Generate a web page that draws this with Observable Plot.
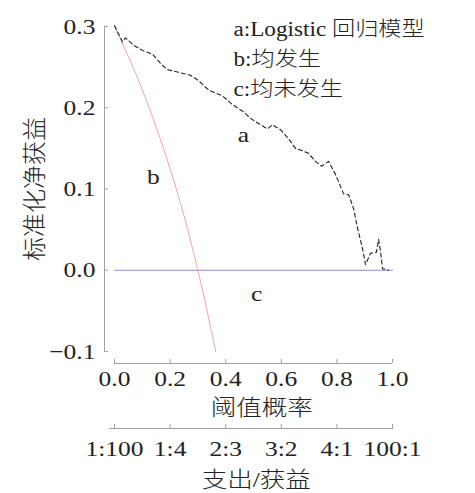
<!DOCTYPE html>
<html>
<head>
<meta charset="utf-8">
<script src="https://cdn.jsdelivr.net/npm/d3@7"></script>
<script src="https://cdn.jsdelivr.net/npm/@observablehq/plot@0.6"></script>
<style>
  html, body { margin: 0; padding: 0; background: #fff; }
  #chart svg { display: block; }
  #chart svg text { font-family: "Liberation Serif", "Times New Roman", "Noto Sans CJK SC", serif; }
</style>
</head>
<body>
<div id="chart"></div>
<script>
// a: Logistic regression model
const modelThreshold = [0, 0.029, 0.04, 0.068, 0.104, 0.137, 0.17, 0.19, 0.226, 0.273, 0.30, 0.338, 0.363, 0.387, 0.424, 0.464, 0.489, 0.507, 0.55, 0.568, 0.597, 0.626, 0.651, 0.669, 0.698, 0.723, 0.745, 0.77, 0.795, 0.824, 0.842, 0.86, 0.874, 0.892, 0.903, 0.921, 0.942, 0.95, 0.957, 0.964, 0.986];
const modelNB = [0.301, 0.281, 0.286, 0.277, 0.270, 0.266, 0.253, 0.247, 0.244, 0.240, 0.234, 0.222, 0.218, 0.215, 0.204, 0.195, 0.187, 0.183, 0.174, 0.179, 0.173, 0.162, 0.150, 0.148, 0.144, 0.134, 0.128, 0.134, 0.118, 0.094, 0.093, 0.076, 0.052, 0.027, 0.007, 0.021, 0.022, 0.038, 0.023, 0.002, 0.0];
// b: treat all
const allThreshold = [0, 0.05, 0.1, 0.15, 0.2, 0.25, 0.3, 0.35, 0.364];
const allNB = [0.300, 0.263, 0.222, 0.176, 0.125, 0.067, 0.0, -0.077, -0.1];
// c: treat none
const noneThreshold = [0, 1];
const noneNB = [0, 0];

const xTicks = [0, 0.2, 0.4, 0.6, 0.8, 1.0];
const yTicks = [-0.1, 0, 0.1, 0.2, 0.3];
const costBenefitLabels = ["1:100", "1:4", "2:3", "3:2", "4:1", "100:1"];
const legendLines = ["a:Logistic 回归模型", "b:均发生", "c:均未发生"];
const legendY = [0.296, 0.259, 0.222];
const curveLabels = ["a", "b", "c"];
const curveLabelX = [0.464, 0.14, 0.511];
const curveLabelY = [0.167, 0.115, -0.029];

const modelData = modelThreshold.map((t, i) => ({t, nb: modelNB[i]}));
const allData = allThreshold.map((t, i) => ({t, nb: allNB[i]}));
const noneData = noneThreshold.map((t, i) => ({t, nb: noneNB[i]}));
const costData = xTicks.map((t, i) => ({t, label: costBenefitLabels[i]}));
const legendData = legendLines.map((s, i) => ({s, y: legendY[i]}));
const curveLabelData = curveLabels.map((s, i) => ({s, x: curveLabelX[i], y: curveLabelY[i]}));

const axisColor = "#a0a0a0";
const ink = "#222";
const fmt = d3.format(".1f");

const chart = Plot.plot({
  width: 475,
  height: 493,
  marginLeft: 114,
  marginRight: 83,
  marginTop: 26,
  marginBottom: 142,
  x: {domain: [0, 1], axis: null},
  y: {domain: [-0.1, 0.3], axis: null},
  style: {fontSize: "21px", background: "#fff", color: ink},
  marks: [
    // y axis spine & inward ticks (offset left)
    Plot.ruleX([0], {y1: -0.1, y2: 0.3, dx: -10, stroke: axisColor}),
    Plot.ruleY(yTicks, {y: d => d, x1: 0, x2: 0, dx: -10, insetRight: -4, stroke: axisColor}),
    Plot.text(yTicks, {y: d => d, x: 0, text: d => fmt(d), textAnchor: "end", dx: -19, fontSize: 22, fill: ink}),
    // x axis spine & inward ticks (offset below)
    Plot.ruleY([-0.1], {x1: 0, x2: 1, dy: 12, stroke: axisColor}),
    Plot.ruleX(xTicks, {x: d => d, y1: -0.1, y2: -0.1, dy: 12, insetTop: -4, stroke: axisColor}),
    Plot.text(xTicks, {x: d => d, y: -0.1, text: d => fmt(d), dy: 27, fontSize: 22, fill: ink}),
    Plot.text(["阈值概率"], {x: 0.53, y: -0.1, text: d => d, dy: 56, fontSize: 22, fontWeight: 300, fill: ink}),
    // cost:benefit secondary axis
    Plot.ruleY([-0.1], {x1: -0.018, x2: 1.004, dy: 77, stroke: axisColor}),
    Plot.ruleX(costData, {x: "t", y1: -0.1, y2: -0.1, dy: 77, insetTop: -4, stroke: axisColor}),
    Plot.text(costData, {x: "t", y: -0.1, text: "label", dy: 97, fontSize: 22, fill: ink}),
    Plot.text(["支出/获益"], {x: 0.51, y: -0.1, text: d => d, dy: 128, fontSize: 22, fontWeight: 300, fill: ink}),
    // y label
    Plot.text(["标准化净获益"], {frameAnchor: "left", y: 0.1, text: d => d, dx: -79, rotate: -90, textAnchor: "middle", fontSize: 24, fontWeight: 300, fill: ink}),
    // curves
    Plot.line(noneData, {x: "t", y: "nb", stroke: "#8a8ad8", strokeWidth: 1}),
    Plot.line(allData, {x: "t", y: "nb", stroke: "#f29a9a", strokeWidth: 0.9, curve: "monotone-x"}),
    Plot.line(modelData, {x: "t", y: "nb", stroke: ink, strokeWidth: 1.1, strokeDasharray: "4,3"}),
    // curve labels
    Plot.text(curveLabelData, {x: "x", y: "y", text: "s", fontSize: 22, fill: ink}),
    // legend
    Plot.text(legendData, {x: 0.428, y: "y", text: "s", textAnchor: "start", fontSize: 20, fontWeight: 300, fill: ink})
  ]
});
// the reference typesetting is horizontally wider: stretch non-rotated glyphs around their anchors
d3.select(chart).selectAll("text").each(function() {
  const t = this.getAttribute("transform") || "";
  if (!t.includes("rotate")) this.setAttribute("transform", (t + " scale(1.16,1)").trim());
});
document.getElementById("chart").appendChild(chart);
</script>
</body>
</html>
